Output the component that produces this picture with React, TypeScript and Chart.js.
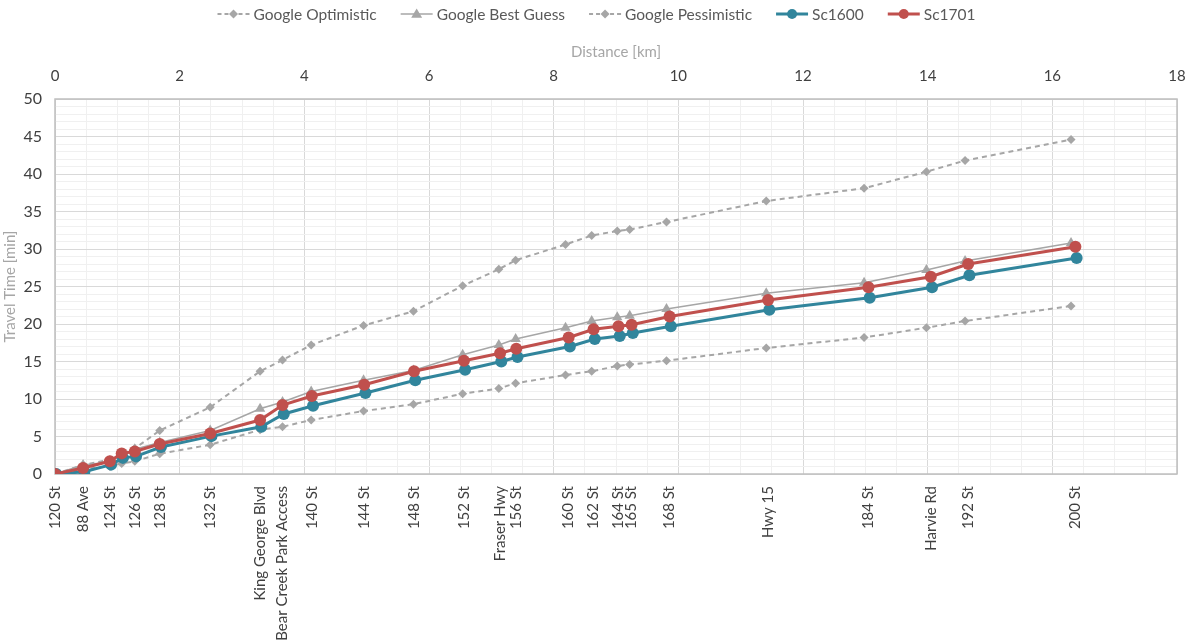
import React, { useEffect, useRef } from 'react';
import { Chart, registerables } from 'chart.js';

Chart.register(...registerables);

// ---------- data ----------
const stationLabels = [
  '120 St', '88 Ave', '124 St', '', '126 St', '128 St', '132 St',
  'King George Blvd', 'Bear Creek Park Access', '140 St', '144 St', '148 St',
  '152 St', 'Fraser Hwy', '156 St', '160 St', '162 St', '164 St', '165 St',
  '168 St', 'Hwy 15', '184 St', 'Harvie Rd', '192 St', '200 St',
];

const scDist = [
  0, 0.45, 0.88, 1.07, 1.28, 1.68, 2.49, 3.29, 3.65, 4.12, 4.96, 5.76, 6.56,
  7.14, 7.4, 8.24, 8.64, 9.04, 9.25, 9.86, 11.44, 13.05, 14.05, 14.65, 16.37,
];

const googleDist = [
  0, 0.45, 0.88, 1.07, 1.28, 1.68, 2.49, 3.29, 3.65, 4.11, 4.95, 5.75, 6.54,
  7.12, 7.39, 8.19, 8.61, 9.02, 9.22, 9.81, 11.41, 12.98, 13.98, 14.6, 16.3,
];

const googleOptimistic = [
  0, 0.7, 1.0, 1.4, 1.7, 2.7, 3.9, 5.9, 6.3, 7.2, 8.4, 9.3, 10.7, 11.4, 12.1,
  13.2, 13.7, 14.4, 14.6, 15.1, 16.8, 18.2, 19.5, 20.4, 22.4,
];

const googleBestGuess = [
  0, 1.2, 1.6, 2.5, 3.3, 4.2, 5.8, 8.7, 9.6, 11.0, 12.5, 13.8, 15.9, 17.2,
  18.0, 19.5, 20.4, 20.9, 21.1, 22.0, 24.1, 25.5, 27.2, 28.4, 30.8,
];

const googlePessimistic = [
  0, 1.2, 1.9, 2.6, 3.4, 5.8, 8.9, 13.7, 15.2, 17.2, 19.8, 21.7, 25.1, 27.3,
  28.5, 30.6, 31.8, 32.4, 32.6, 33.6, 36.4, 38.1, 40.3, 41.8, 44.6,
];

const sc1600 = [
  0, 0.3, 1.25, 2.15, 2.35, 3.6, 5.05, 6.3, 8.0, 9.1, 10.8, 12.5, 13.9, 15.0,
  15.6, 17.0, 18.0, 18.4, 18.8, 19.7, 21.9, 23.5, 24.9, 26.5, 28.8,
];

const sc1701 = [
  0, 0.8, 1.7, 2.75, 3.0, 4.0, 5.4, 7.2, 9.2, 10.4, 11.9, 13.7, 15.1, 16.1,
  16.7, 18.2, 19.3, 19.7, 19.9, 21.0, 23.2, 24.9, 26.3, 28.0, 30.3,
];

const distanceMin = 0;
const distanceMax = 18;
const timeMin = 0;
const timeMax = 50;

// ---------- styles ----------
const FONT = 'Lato';
const GRAY = '#a6a6a6';
const TEAL = '#31859c';
const RED = '#c0504d';
const TEXT = '#404040';
const MAJOR = '#d9d9d9';
const MINOR = '#f0f0f0';

type Marker = 'diamond' | 'triangle' | 'circle';

const legendItems: { label: string; color: string; dash: number[]; width: number; marker: Marker; r: number }[] = [
  { label: 'Google Optimistic', color: GRAY, dash: [4, 3], width: 2, marker: 'diamond', r: 4.5 },
  { label: 'Google Best Guess', color: GRAY, dash: [], width: 1.5, marker: 'triangle', r: 5.5 },
  { label: 'Google Pessimistic', color: GRAY, dash: [4, 3], width: 2, marker: 'diamond', r: 4.5 },
  { label: 'Sc1600', color: TEAL, dash: [], width: 3, marker: 'circle', r: 5 },
  { label: 'Sc1701', color: RED, dash: [], width: 3, marker: 'circle', r: 5 },
];

function drawMarker(ctx: CanvasRenderingContext2D, m: Marker, x: number, y: number, r: number, color: string) {
  ctx.save();
  ctx.fillStyle = color;
  ctx.setLineDash([]);
  ctx.beginPath();
  if (m === 'circle') {
    ctx.arc(x, y, r, 0, Math.PI * 2);
  } else if (m === 'diamond') {
    ctx.moveTo(x, y - r);
    ctx.lineTo(x + r, y);
    ctx.lineTo(x, y + r);
    ctx.lineTo(x - r, y);
    ctx.closePath();
  } else {
    ctx.moveTo(x, y - r);
    ctx.lineTo(x + r, y + r * 0.7);
    ctx.lineTo(x - r, y + r * 0.7);
    ctx.closePath();
  }
  ctx.fill();
  ctx.restore();
}

const legendPlugin = {
  id: 'customLegend',
  afterDraw(chart: any) {
    const ctx: CanvasRenderingContext2D = chart.ctx;
    ctx.save();
    ctx.font = `15.5px ${FONT}`;
    const symW = 32;
    const gapText = 4;
    const gapItem = 24;
    const widths = legendItems.map((it) => symW + gapText + ctx.measureText(it.label).width);
    const total = widths.reduce((a, b) => a + b, 0) + gapItem * (legendItems.length - 1);
    let x = (chart.width - total) / 2 + 4;
    const y = 14;
    legendItems.forEach((it, i) => {
      ctx.strokeStyle = it.color;
      ctx.lineWidth = it.width;
      ctx.setLineDash(it.dash);
      ctx.beginPath();
      ctx.moveTo(x, y);
      ctx.lineTo(x + symW, y);
      ctx.stroke();
      drawMarker(ctx, it.marker, x + symW / 2, y, it.r, it.color);
      ctx.fillStyle = '#595959';
      ctx.textBaseline = 'middle';
      ctx.textAlign = 'left';
      ctx.fillText(it.label, x + symW + gapText, y + 1);
      x += widths[i] + gapItem;
    });
    ctx.restore();
  },
};

const framePlugin = {
  id: 'frame',
  beforeDatasetsDraw(chart: any) {
    const { left, top, right, bottom } = chart.chartArea;
    const ctx: CanvasRenderingContext2D = chart.ctx;
    ctx.save();
    ctx.strokeStyle = '#bfbfbf';
    ctx.lineWidth = 1.5;
    ctx.strokeRect(left, top, right - left, bottom - top);
    ctx.restore();
  },
};

function pts(xs: number[], ys: number[]) {
  return xs.map((x, i) => ({ x, y: ys[i] }));
}

export default function App() {
  const ref = useRef<HTMLCanvasElement>(null);

  useEffect(() => {
    if (!ref.current) return;
    const font = { family: FONT, size: 15 };
    const chart = new Chart(ref.current, {
      type: 'scatter',
      data: {
        datasets: [
          {
            label: 'Google Optimistic',
            data: pts(googleDist, googleOptimistic),
            showLine: true,
            borderColor: GRAY,
            backgroundColor: GRAY,
            borderWidth: 2,
            borderDash: [5, 4],
            pointStyle: 'rectRot',
            pointRadius: 4.5,
            pointBorderWidth: 0,
            order: 3,
          },
          {
            label: 'Google Best Guess',
            data: pts(googleDist, googleBestGuess),
            showLine: true,
            borderColor: GRAY,
            backgroundColor: GRAY,
            borderWidth: 1.5,
            pointStyle: 'triangle',
            pointRadius: 6,
            pointBorderWidth: 0,
            order: 2,
          },
          {
            label: 'Google Pessimistic',
            data: pts(googleDist, googlePessimistic),
            showLine: true,
            borderColor: GRAY,
            backgroundColor: GRAY,
            borderWidth: 2,
            borderDash: [5, 4],
            pointStyle: 'rectRot',
            pointRadius: 4.5,
            pointBorderWidth: 0,
            order: 3,
          },
          {
            label: 'Sc1600',
            data: pts(scDist.map((d) => d + 0.02), sc1600),
            showLine: true,
            borderColor: TEAL,
            backgroundColor: TEAL,
            borderWidth: 3,
            pointStyle: 'circle',
            pointRadius: 6,
            pointBorderWidth: 0,
            order: 1,
          },
          {
            label: 'Sc1701',
            data: pts(scDist, sc1701),
            showLine: true,
            borderColor: RED,
            backgroundColor: RED,
            borderWidth: 3,
            pointStyle: 'circle',
            pointRadius: 6,
            pointBorderWidth: 0,
            order: 0,
          },
        ],
      },
      options: {
        animation: false,
        responsive: false,
        layout: { padding: { top: 28, right: 8, left: 0, bottom: 0 } },
        plugins: {
          legend: { display: false },
          tooltip: { enabled: false },
        },
        scales: {
          x: {
            type: 'linear',
            position: 'top',
            min: distanceMin,
            max: distanceMax,
            ticks: {
              stepSize: 0.5,
              autoSkip: false,
              maxRotation: 0,
              callback: (v: any) => (Number(v) % 2 === 0 ? String(v) : ''),
              font,
              color: TEXT,
              padding: 14,
            },
            grid: {
              color: (c: any) => (c.tick && c.tick.value % 2 === 0 ? MAJOR : MINOR),
              drawTicks: false,
            },
            border: { display: false },
            title: {
              display: true,
              text: 'Distance [km]',
              color: GRAY,
              font,
              padding: { top: 15, bottom: 0 },
            },
            afterFit: (s: any) => {
              s.height = 71;
              s.paddingLeft = 0;
              s.paddingRight = 0;
            },
          },
          xb: {
            type: 'linear',
            position: 'bottom',
            min: distanceMin,
            max: distanceMax,
            afterBuildTicks: (s: any) => {
              s.ticks = scDist.map((v) => ({ value: v }));
            },
            ticks: {
              autoSkip: false,
              minRotation: 90,
              maxRotation: 90,
              callback: (_v: any, i: number) => stationLabels[i],
              font,
              color: TEXT,
              padding: 12,
            },
            grid: { display: false, drawTicks: false },
            border: { display: false },
            afterFit: (s: any) => {
              s.height = 168;
              s.paddingLeft = 0;
              s.paddingRight = 0;
            },
          },
          y: {
            type: 'linear',
            position: 'left',
            min: timeMin,
            max: timeMax,
            ticks: {
              stepSize: 1,
              autoSkip: false,
              callback: (v: any) => (Number(v) % 5 === 0 ? String(v) : ''),
              font: { family: FONT, size: 16 },
              color: TEXT,
              padding: 13,
            },
            grid: {
              color: (c: any) => (c.tick && c.tick.value % 5 === 0 ? MAJOR : MINOR),
              drawTicks: false,
            },
            border: { display: false },
            title: {
              display: true,
              text: 'Travel Time [min]',
              color: GRAY,
              font,
              padding: { top: 1, bottom: 0 },
            },
            afterFit: (s: any) => {
              s.width = 55;
              s.paddingTop = 0;
              s.paddingBottom = 0;
            },
          },
        },
      } as any,
      plugins: [framePlugin, legendPlugin],
    });
    return () => chart.destroy();
  }, []);

  return (
    <div style={{ position: 'absolute', left: 0, top: 0, width: 1185, height: 642, background: '#fff' }}>
      <canvas ref={ref} width={1185} height={642} style={{ display: 'block' }} />
    </div>
  );
}
